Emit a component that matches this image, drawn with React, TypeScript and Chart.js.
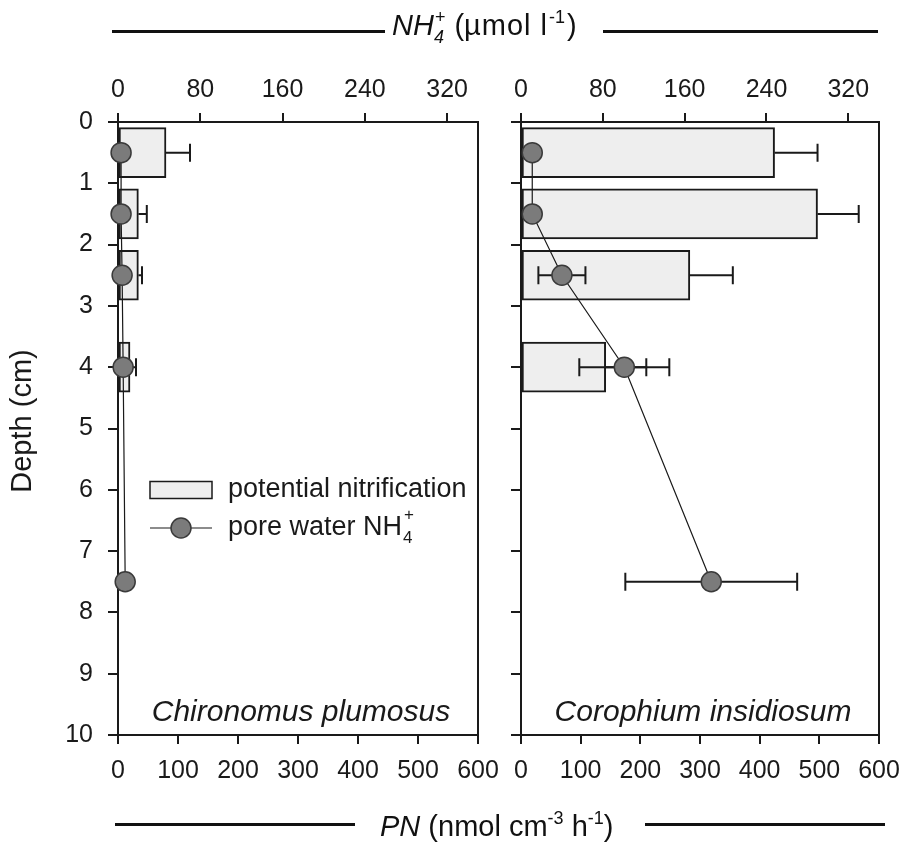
import React, { useEffect, useRef } from "react";
import { Chart, registerables } from "chart.js";

Chart.register(...registerables);

// Sampling depths (cm) of the slice centres
const BAR_DEPTHS = [0.5, 1.5, 2.5, 4];
const NH4_DEPTHS = [0.5, 1.5, 2.5, 4, 7.5];

// Chironomus plumosus: potential nitrification (nmol cm-3 h-1) and pore water NH4+ (µmol l-1)
const CHIRONOMUS_PN = [80, 34, 34, 20];
const CHIRONOMUS_PN_SE = [40, 14, 6, 10];
const CHIRONOMUS_NH4 = [3, 3, 4, 5, 7];
const CHIRONOMUS_NH4_SE = [1, 1, 1, 2, 2];

// Corophium insidiosum
const COROPHIUM_PN = [425, 497, 283, 142];
const COROPHIUM_PN_SE = [72, 69, 72, 68];
const COROPHIUM_NH4 = [11, 11, 40, 101, 186];
const COROPHIUM_NH4_SE = [3, 3, 23, 44, 84];

// Axis ticks
const PN_TICKS = [0, 100, 200, 300, 400, 500, 600];
const NH4_TICKS = [0, 80, 160, 240, 320];
const DEPTH_TICKS = [0, 1, 2, 3, 4, 5, 6, 7, 8, 9, 10];

const PN_MAX = 600;
const NH4_MAX = 350;
const DEPTH_MAX = 10;

const LEGEND_BAR = "potential nitrification";
const LEGEND_LINE = "pore water NH";

const FONT = "'Liberation Sans', Arial, Helvetica, sans-serif";
const INK = "#1a1a1a";

type Panel = {
  species: string;
  pn: number[];
  pnSe: number[];
  nh4: number[];
  nh4Se: number[];
  depthLabels: boolean;
  legend: boolean;
  left: number;
  right: number;
};

const PANELS: Panel[] = [
  {
    species: "Chironomus plumosus",
    pn: CHIRONOMUS_PN,
    pnSe: CHIRONOMUS_PN_SE,
    nh4: CHIRONOMUS_NH4,
    nh4Se: CHIRONOMUS_NH4_SE,
    depthLabels: true,
    legend: true,
    left: 118,
    right: 478,
  },
  {
    species: "Corophium insidiosum",
    pn: COROPHIUM_PN,
    pnSe: COROPHIUM_PN_SE,
    nh4: COROPHIUM_NH4,
    nh4Se: COROPHIUM_NH4_SE,
    depthLabels: false,
    legend: false,
    left: 521,
    right: 879,
  },
];

const W = 901;
const H = 848;
const PLOT_TOP = 122;
const PLOT_BOTTOM = 735;
const Y_AXIS_W = 80;
const X_AXIS_H = 60;

function decorPlugin(panel: Panel) {
  return {
    id: "panelDecor",
    beforeDatasetDraw(chart: any, args: any) {
      // error bars go beneath the NH4+ line and markers (dataset 0)
      if (args.index !== 0) return;
      const { ctx } = chart;
      const xs = chart.scales.x;
      const xt = chart.scales.xTop;
      const ys = chart.scales.y;
      const cap = 9;
      ctx.save();
      ctx.strokeStyle = INK;
      ctx.lineWidth = 2;
      BAR_DEPTHS.forEach((d, i) => {
        const y = ys.getPixelForValue(d);
        const x0 = xs.getPixelForValue(panel.pn[i]);
        const x1 = xs.getPixelForValue(panel.pn[i] + panel.pnSe[i]);
        ctx.beginPath();
        ctx.moveTo(x0, y);
        ctx.lineTo(x1, y);
        ctx.moveTo(x1, y - cap);
        ctx.lineTo(x1, y + cap);
        ctx.stroke();
      });
      NH4_DEPTHS.forEach((d, i) => {
        const y = ys.getPixelForValue(d);
        const xl = xt.getPixelForValue(panel.nh4[i] - panel.nh4Se[i]);
        const xr = xt.getPixelForValue(panel.nh4[i] + panel.nh4Se[i]);
        ctx.beginPath();
        ctx.moveTo(xl, y);
        ctx.lineTo(xr, y);
        ctx.moveTo(xl, y - cap);
        ctx.lineTo(xl, y + cap);
        ctx.moveTo(xr, y - cap);
        ctx.lineTo(xr, y + cap);
        ctx.stroke();
      });
      ctx.restore();
    },
    afterDraw(chart: any) {
      const { ctx, chartArea } = chart;
      ctx.save();
      // right-hand frame line
      ctx.strokeStyle = INK;
      ctx.lineWidth = 2;
      ctx.beginPath();
      ctx.moveTo(chartArea.right, chartArea.top - 1);
      ctx.lineTo(chartArea.right, chartArea.bottom + 1);
      ctx.stroke();

      // species name
      ctx.fillStyle = INK;
      ctx.font = `italic 30px ${FONT}`;
      ctx.textAlign = "center";
      ctx.textBaseline = "middle";
      ctx.fillText(panel.species, (chartArea.left + chartArea.right) / 2 + 3, 713);

      if (panel.depthLabels) {
        ctx.save();
        ctx.translate(23, 421);
        ctx.rotate(-Math.PI / 2);
        ctx.font = `29px ${FONT}`;
        ctx.textAlign = "center";
        ctx.textBaseline = "middle";
        ctx.fillText("Depth (cm)", 0, 0);
        ctx.restore();
      }

      if (panel.legend) {
        const lx = 150;
        const lw = 62;
        const row1 = 490;
        const row2 = 528;
        ctx.fillStyle = "#eeeeee";
        ctx.fillRect(lx, row1 - 8.5, lw, 17);
        ctx.strokeStyle = INK;
        ctx.lineWidth = 1.5;
        ctx.strokeRect(lx, row1 - 8.5, lw, 17);

        ctx.lineWidth = 1.2;
        ctx.beginPath();
        ctx.moveTo(lx, row2);
        ctx.lineTo(lx + lw, row2);
        ctx.stroke();
        ctx.beginPath();
        ctx.arc(lx + lw / 2, row2, 10, 0, Math.PI * 2);
        ctx.fillStyle = "#7b7b7b";
        ctx.fill();
        ctx.strokeStyle = "#3a3a3a";
        ctx.lineWidth = 1.5;
        ctx.stroke();

        ctx.fillStyle = INK;
        ctx.textAlign = "left";
        ctx.textBaseline = "middle";
        ctx.font = `27px ${FONT}`;
        ctx.fillText(LEGEND_BAR, 228, row1);
        ctx.fillText(LEGEND_LINE, 228, row2);
        const after = 228 + ctx.measureText(LEGEND_LINE).width + 1;
        ctx.font = `17px ${FONT}`;
        ctx.fillText("4", after, row2 + 10);
        ctx.fillText("+", after + 1, row2 - 13);
      }
      ctx.restore();
    },
  };
}

function buildChart(canvas: HTMLCanvasElement, panel: Panel) {
  const tickFont = { family: FONT, size: 25 };
  const grid = (len: number) => ({
    display: true,
    drawOnChartArea: false,
    drawTicks: true,
    tickLength: len,
    lineWidth: 2,
    color: INK,
    offset: false,
  });
  const border = { display: true, color: INK, width: 2 };
  const fitX = (s: any) => {
    s.height = X_AXIS_H;
    s.paddingLeft = 0;
    s.paddingRight = 0;
  };

  return new Chart(canvas, {
    type: "bar",
    data: {
      datasets: [
        {
          type: "line",
          label: "pore water NH4+",
          data: NH4_DEPTHS.map((d, i) => ({ x: panel.nh4[i], y: d })),
          xAxisID: "xTop",
          yAxisID: "y",
          order: 0,
          clip: false,
          borderColor: INK,
          borderWidth: 1.2,
          tension: 0,
          fill: false,
          pointRadius: 10,
          pointBackgroundColor: "#7b7b7b",
          pointBorderColor: "#3a3a3a",
          pointBorderWidth: 1.5,
        } as any,
        {
          type: "bar",
          label: "potential nitrification",
          indexAxis: "y",
          data: BAR_DEPTHS.map((d, i) => ({ x: panel.pn[i], y: d })),
          xAxisID: "x",
          yAxisID: "y",
          order: 1,
          grouped: false,
          backgroundColor: "#eeeeee",
          borderColor: INK,
          borderWidth: 2,
          borderSkipped: false,
          barThickness: 50,
        } as any,
      ],
    },
    options: {
      responsive: false,
      maintainAspectRatio: false,
      animation: false,
      devicePixelRatio: 1,
      events: [],
      layout: {
        padding: {
          left: panel.left - Y_AXIS_W,
          right: W - panel.right,
          top: PLOT_TOP - X_AXIS_H,
          bottom: H - PLOT_BOTTOM - X_AXIS_H,
        },
      },
      plugins: {
        legend: { display: false },
        tooltip: { enabled: false },
        title: { display: false },
      },
      scales: {
        x: {
          type: "linear",
          position: "bottom",
          min: 0,
          max: PN_MAX,
          offset: false,
          afterBuildTicks: (s: any) => {
            s.ticks = PN_TICKS.map((value) => ({ value }));
          },
          afterFit: fitX,
          ticks: { font: tickFont, color: INK, padding: 12, maxRotation: 0, autoSkip: false },
          grid: grid(9),
          border,
        },
        xTop: {
          type: "linear",
          position: "top",
          min: 0,
          max: NH4_MAX,
          offset: false,
          afterBuildTicks: (s: any) => {
            s.ticks = NH4_TICKS.map((value) => ({ value }));
          },
          afterFit: fitX,
          ticks: { font: tickFont, color: INK, padding: 8, maxRotation: 0, autoSkip: false },
          grid: grid(9),
          border,
        },
        y: {
          type: "linear",
          position: "left",
          reverse: true,
          min: 0,
          max: DEPTH_MAX,
          offset: false,
          afterBuildTicks: (s: any) => {
            s.ticks = DEPTH_TICKS.map((value) => ({ value }));
          },
          afterFit: (s: any) => {
            s.width = Y_AXIS_W;
            s.paddingTop = 0;
            s.paddingBottom = 0;
          },
          ticks: { display: panel.depthLabels, font: tickFont, color: INK, padding: 15, autoSkip: false },
          grid: grid(10),
          border,
        },
      },
    } as any,
    plugins: [decorPlugin(panel)],
  });
}

function Line({ x1, x2, y }: { x1: number; x2: number; y: number }) {
  return (
    <div
      style={{
        position: "absolute",
        left: x1,
        top: y - 1.5,
        width: x2 - x1,
        height: 3,
        background: "#111",
      }}
    />
  );
}

const sup: React.CSSProperties = { fontSize: 18, position: "relative", top: -12 };
const sub: React.CSSProperties = { fontSize: 18, position: "relative", top: 8 };

export default function App() {
  const leftRef = useRef<HTMLCanvasElement | null>(null);
  const rightRef = useRef<HTMLCanvasElement | null>(null);

  useEffect(() => {
    document.body.style.margin = "0";
    const charts: Chart[] = [];
    if (leftRef.current) charts.push(buildChart(leftRef.current, PANELS[0]));
    if (rightRef.current) charts.push(buildChart(rightRef.current, PANELS[1]));
    return () => charts.forEach((c) => c.destroy());
  }, []);

  const canvasStyle: React.CSSProperties = { position: "absolute", left: 0, top: 0 };

  return (
    <div
      style={{
        position: "relative",
        width: W,
        height: H,
        overflow: "hidden",
        background: "#fff",
        fontFamily: FONT,
        color: "#111",
      }}
    >
      <canvas ref={leftRef} width={W} height={H} style={canvasStyle} />
      <canvas ref={rightRef} width={W} height={H} style={canvasStyle} />

      {/* top axis title: NH4+ (µmol l-1) */}
      <Line x1={112} x2={385} y={31} />
      <Line x1={603} x2={878} y={31} />
      <div
        style={{
          position: "absolute",
          left: 392,
          top: 11,
          fontSize: 29,
          lineHeight: "29px",
          whiteSpace: "nowrap",
        }}
      >
        <i>NH</i>
        <i style={sub}>4</i>
        <span style={{ ...sup, marginLeft: -9 }}>+</span>
        <span style={{ marginLeft: 9 }}>(</span>
        <span style={{ letterSpacing: 1 }}>µmol l</span>
        <span style={{ ...sup, marginLeft: 1 }}>-1</span>
        <span style={{ marginLeft: 2 }}>)</span>
      </div>

      {/* bottom axis title: PN (nmol cm-3 h-1) */}
      <Line x1={115} x2={355} y={824} />
      <Line x1={645} x2={885} y={824} />
      <div
        style={{
          position: "absolute",
          left: 380,
          top: 812,
          fontSize: 29,
          lineHeight: "29px",
          whiteSpace: "nowrap",
        }}
      >
        <i>PN</i>
        <span> (nmol cm</span>
        <span style={{ ...sup, fontSize: 18 }}>-3</span>
        <span> h</span>
        <span style={{ ...sup, fontSize: 18 }}>-1</span>
        <span>)</span>
      </div>
    </div>
  );
}
